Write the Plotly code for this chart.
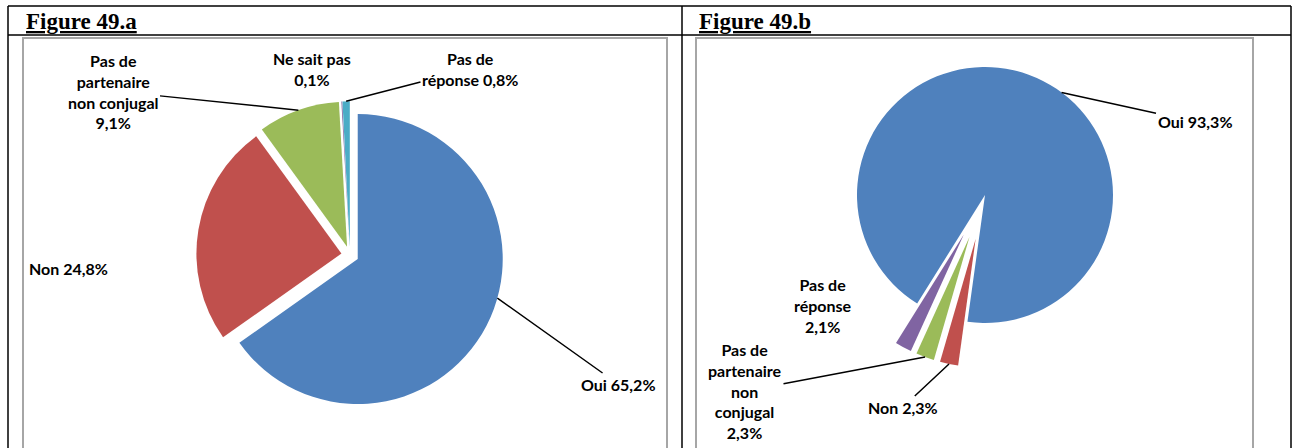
import math
import plotly.graph_objects as go

W, H = 1296, 448

# Figure 49.a
labels_a = ["Oui", "Non", "Pas de partenaire non conjugal", "Ne sait pas", "Pas de réponse"]
values_a = [65.2, 24.8, 9.1, 0.1, 0.8]
colors_a = ["#4F81BD", "#C0504D", "#9BBB59", "#8064A2", "#4BACC6"]

# Figure 49.b
labels_b = ["Oui", "Non", "Pas de partenaire non conjugal", "Pas de réponse"]
values_b = [93.3, 2.3, 2.3, 2.1]
colors_b = ["#4F81BD", "#C0504D", "#9BBB59", "#8064A2"]

titles = ["Figure 49.a", "Figure 49.b"]

# wrapped versions of the category names for the outside labels
wrap_a = {
    "Oui": "Oui {}",
    "Non": "Non {}",
    "Pas de partenaire non conjugal": "Pas de<br>partenaire<br>non conjugal<br>{}",
    "Ne sait pas": "Ne sait pas<br>{}",
    "Pas de réponse": "Pas de<br>réponse {}",
}
wrap_b = {
    "Oui": "Oui {}",
    "Non": "Non {}",
    "Pas de partenaire non conjugal": "Pas de<br>partenaire<br>non<br>conjugal<br>{}",
    "Pas de réponse": "Pas de<br>réponse<br>{}",
}

LABEL_FONT = dict(family="Lato", size=16, color="#000000")


def pct(v):
    return f"{v:.1f}".replace(".", ",") + "%"


def px(x):
    return x / W


def py(y):
    return 1 - y / H


def slice_spans(values, rotation):
    total = sum(values)
    spans, start = [], rotation
    for v in values:
        span = 360.0 * v / total
        spans.append((start, start + span))
        start += span
    return spans


def edge_point(cx, cy, r, pull, span, frac=0.5):
    a0, a1 = span
    mid = math.radians((a0 + a1) / 2)
    phi = math.radians(a0 + (a1 - a0) * frac)
    x = cx + pull * r * math.sin(mid) + r * math.sin(phi)
    y = cy - pull * r * math.cos(mid) - r * math.cos(phi)
    return x, y


fig = go.Figure()
annotations = []


def add_pie(labels, values, colors, pulls, rotation, cx, cy, r, wrap, label_pos):
    half = r * (1 + max(pulls))
    fig.add_trace(go.Pie(
        labels=labels, values=values, sort=False, direction="clockwise",
        rotation=rotation, pull=pulls, textinfo="none", hoverinfo="label+percent",
        marker=dict(colors=colors, line=dict(width=0)), showlegend=False,
        domain=dict(x=[px(cx - half), px(cx + half)], y=[py(cy + half), py(cy - half)]),
    ))
    spans = slice_spans(values, rotation)
    for i, lab in enumerate(labels):
        if lab not in label_pos:
            continue
        (tx, ty), frac = label_pos[lab]
        text = "<b>" + wrap[lab].format(pct(values[i])) + "</b>"
        if frac is None:
            annotations.append(dict(x=px(tx), y=py(ty), xref="paper", yref="paper",
                                    xanchor="center", yanchor="middle",
                                    text=text, showarrow=False, font=LABEL_FONT))
        else:
            ex, ey = edge_point(cx, cy, r, pulls[i], spans[i], frac)
            annotations.append(dict(x=px(ex), y=py(ey), xref="paper", yref="paper",
                                    ax=tx - ex, ay=ty - ey, text=text, showarrow=True,
                                    arrowhead=0, arrowwidth=1.5, arrowcolor="#000000",
                                    standoff=0, font=LABEL_FONT))


add_pie(labels_a, values_a, colors_a, [0.06, 0.06, 0.06, 0.06, 0.06], 0,
        350, 255, 145, wrap_a, {
            "Oui": ((618, 384), 0.45),
            "Non": ((68, 268), None),
            "Pas de partenaire non conjugal": ((113, 91), 0.5),
            "Ne sait pas": ((312, 69), None),
            "Pas de réponse": ((470, 69), 0.5),
        })

add_pie(labels_b, values_b, colors_b, [0.0, 0.35, 0.35, 0.35], 212,
        985, 195, 128, wrap_b, {
            "Oui": ((1195, 122), 0.55),
            "Non": ((903, 407), 0.5),
            "Pas de partenaire non conjugal": ((745, 391), 0.5),
            "Pas de réponse": ((823, 305), None),
        })

# panel titles
for x0, t in zip([24, 697], titles):
    annotations.append(dict(x=px(x0), y=py(21), xref="paper", yref="paper",
                            xanchor="left", yanchor="middle", showarrow=False,
                            text=f"<b><u>{t}</u></b>",
                            font=dict(family="Liberation Serif", size=23, color="#000000")))

shapes = []
black = dict(color="#000000", width=1.5)
grey = dict(color="#A6A6A6", width=2)
# table rules
for y0 in [6, 35]:
    shapes.append(dict(type="line", x0=px(8), x1=px(1291), y0=py(y0), y1=py(y0),
                       xref="paper", yref="paper", line=black))
for x0 in [8, 682, 1291]:
    shapes.append(dict(type="line", x0=px(x0), x1=px(x0), y0=py(6), y1=py(H + 2),
                       xref="paper", yref="paper", line=black))
# chart frames
for xl, xr in [(23, 667), (696, 1253)]:
    shapes.append(dict(type="rect", x0=px(xl), x1=px(xr), y0=py(38), y1=py(H + 10),
                       xref="paper", yref="paper", line=grey, fillcolor="rgba(0,0,0,0)"))

fig.update_layout(
    width=W, height=H, margin=dict(l=0, r=0, t=0, b=0),
    paper_bgcolor="#FFFFFF", plot_bgcolor="#FFFFFF",
    annotations=annotations, shapes=shapes,
)

fig.write_html("out.html")
